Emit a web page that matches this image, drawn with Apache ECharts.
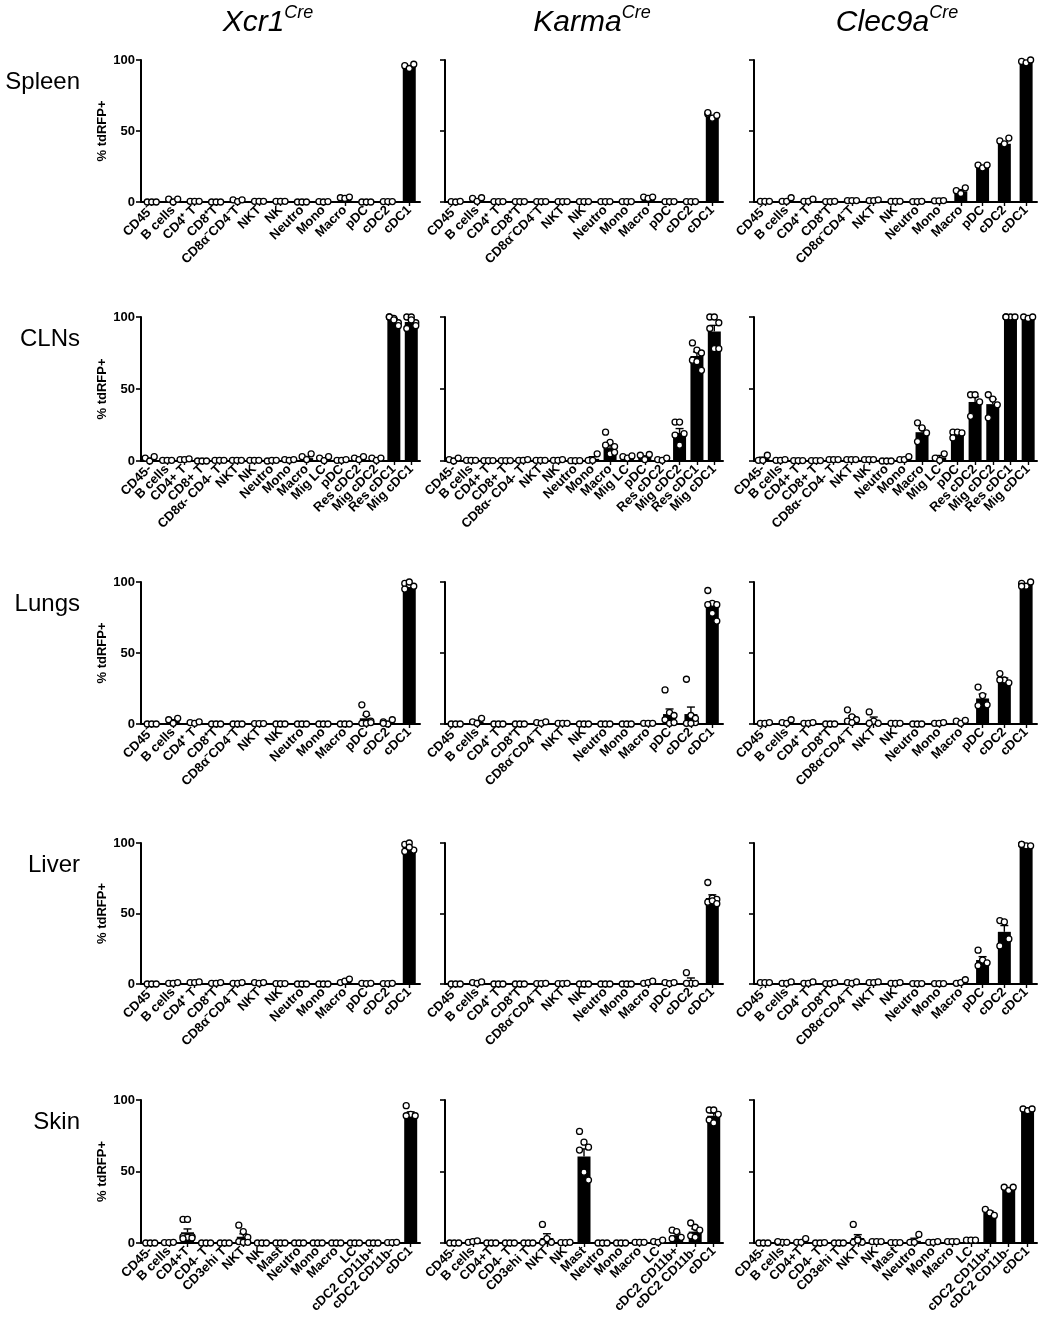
<!DOCTYPE html>
<html>
<head>
<meta charset="utf-8">
<script src="https://cdn.jsdelivr.net/npm/echarts@6/dist/echarts.min.js"></script>
<style>
html,body{margin:0;padding:0;background:#fff;}
#chart{width:1043px;height:1326px;}
</style>
</head>
<body>
<div id="chart"></div>
<script>
// ---------- categories & labels ----------
const catsStd = ['CD45⁻','B cells','CD4⁺ T','CD8⁺T','CD8α⁻CD4⁻T','NKT','NK','Neutro','Mono','Macro','pDC','cDC2','cDC1'];
const catsCLN = ['CD45-','B cells','CD4+ T','CD8+ T','CD8α- CD4- T','NKT','NK','Neutro','Mono','Macro','Mig LC','pDC','Res cDC2','Mig cDC2','Res cDC1','Mig cDC1'];
const catsSkin = ['CD45-','B cells','CD4+T','CD4- T','CD3ehi T','NKT','NK','Mast','Neutro','Mono','Macro','LC','cDC2 CD11b+','cDC2 CD11b-','cDC1'];
const rowNames = ['Spleen','CLNs','Lungs','Liver','Skin'];
const colNames = ['Xcr1','Karma','Clec9a'];
const colSup = 'Cre';
const yTicks = [0, 50, 100];
const yName = '% tdRFP+';

// ---------- Spleen ----------
const spleenXcr1Bar = [0,1,0.5,0,1,0.5,0.5,0,0.2,3,0,0.3,95];
const spleenXcr1Pts = [[0,0,0],[2,0,2],[0.5,0.5,0.5],[0,0,0],[1.5,0.3,1.5],[0.5,0.5,0.5],[0.5,0.5,0.5],[0,0,0],[0.3,0,0.3],[3,2.5,3.5],[0,0,0],[0.3,0.3,0.3],[96,94,97]];
const spleenKarmaBar = [0,1.5,0,0,0,0,0,0,0,3,0,0,60];
const spleenKarmaPts = [[0.3,0,0.5],[2.5,0.5,3],[0.3,0.3,0.3],[0.3,0.3,0.3],[0.3,0.3,0.3],[0.3,0.3,0.3],[0.3,0.3,0.3],[0.3,0.3,0.3],[0.3,0.3,0.3],[3.5,2.5,3.5],[0.3,0.3,0.3],[0.3,0.3,0.3],[62,59,61,63]];
const spleenClec9aBar = [0.5,0.8,0.8,0.3,1,1,0.5,0.3,0.8,7.5,24,41,98.5];
const spleenClec9aPts = [[0.5,0.5,0.5],[0.5,0.5,3],[0.5,0.5,2],[0.3,0.3,0.5],[1,1,1],[1,1,1.5],[0.5,0.5,0.5],[0.3,0.3,0.5],[0.8,0.8,1],[8,6,10],[26,24,26],[43,41,45],[99,98,100]];

// ---------- CLNs ----------
const clnXcr1Bar = [1,0.3,0.8,0,0.5,0.5,0.5,0.3,0.7,2,1.5,0.5,1.5,1.5,98,96.5];
const clnXcr1Pts = [[2,0,3],[0.5,0.5,0.5],[1,1,1.5],[0,0,0],[0.5,0.5,0.5],[0.5,0.5,0.5],[0.5,0.5,0.5],[0,0.5,0.5],[1,0.5,1],[3,1,5],[2,0.3,3],[0.5,0.5,1],[2,1,3],[2,0.5,2],[100,99,96,100,98,94],[100,100,96,92,98,94]];
const clnKarmaBar = [0.7,0.3,0.3,0.3,0.5,0.5,0.5,0.2,1.5,9,2.5,2.5,1,19.5,73,90];
const clnKarmaPts = [[1,0,2],[0.5,0.5,0.5],[0.3,0.3,0.3],[0.3,0.3,0.3],[0.5,0.5,1],[0.5,0.5,0.5],[0.5,0.5,1],[0.2,0.2,0.2],[0.5,0.5,5],[20,13,10,11,5,6],[3,2,3.5],[4,1,4.5],[1,0.5,2],[27,27,19,18,11],[82,77,75,70,69,63],[100,100,96,92,78,78]];
const clnClec9aBar = [1.5,0.5,0.3,0.3,1,1,1,0,1.5,20,2.5,18.5,41,39.5,100,99.5];
const clnClec9aPts = [[0.5,0.5,4],[0.5,0.5,1],[0.3,0.3,0.3],[0.3,0.3,0.3],[1,1,1],[1,1,1],[1,1,1],[0,0,0],[1,1,3],[26.5,23,19.5,13.5],[2,0.5,5],[20,20,19.5,16],[46,46,41,31],[46,43,39,30],[100,100,100,100],[100,99,100]];

// ---------- Lungs ----------
const lungsXcr1Bar = [0,2,0.8,0,0,0.3,0,0,0,0,4,1,97.5];
const lungsXcr1Pts = [[0,0,0],[3,0.5,4],[1,0.5,1.5],[0,0,0],[0,0,0],[0.3,0.3,0.3],[0,0,0],[0,0,0],[0,0,0],[0,0,0],[13.5,7,2,0.5,0.5,1],[1.5,0,3,0.5],[99,98,97,95,100]];
const lungsKarmaBar = [0,1.5,0,0,0.7,0.5,0,0,0,0.5,7,7,83];
const lungsKarmaPts = [[0,0,0],[1.5,0.5,4],[0,0,0],[0,0,0],[1,0.5,1.5],[0.5,0.5,0.5],[0,0,0],[0,0,0],[0,0,0],[0.5,0.5,0.5],[24,8,6,3,0.5,1],[31.5,6,1,0.5,0.5,4],[94,85,84,84,78,72.5]];
const lungsClec9aBar = [0.6,1.3,0.6,0,4,3,0.5,0,0.6,1.5,18,31,98];
const lungsClec9aPts = [[0.5,0.5,1],[1,0.5,3],[0.5,0.5,1],[0,0,0],[10,5,3,2,1],[8.5,2,0.5,0.5],[0.5,0.5,0.5],[0,0,0],[0.5,0.5,1],[2,0.5,2.5],[26,20,13.5,13],[35.5,31,29,31],[99,97,100,97]];

// ---------- Liver ----------
const liverXcr1Bar = [0,0.5,1,0.5,0.5,0.5,0.3,0,0,2,0.3,0.3,96];
const liverXcr1Pts = [[0,0,0],[0.5,0.5,1],[1,1,1.5],[0.5,0.5,1],[0.5,0.5,1],[1,0.5,1],[0.3,0.3,0.3],[0,0,0],[0,0,0],[1,2,3.5],[0.5,0.3,0.5],[0.3,0.3,0.5],[99,100,95,94,97]];
const liverKarmaBar = [0,0.8,0,0,0.3,0.3,0,0,0,1.2,0.5,2.4,61];
const liverKarmaPts = [[0,0,0],[1,0.5,1.5],[0,0,0],[0,0,0],[0.3,0.3,0.5],[0.3,0.3,0.5],[0,0,0],[0,0,0],[0,0,0],[0.5,1,2],[1,0.3,1],[8,0.5,0.5,0.5],[72,61,60,58,59,57]];
const liverClec9aBar = [1,0.8,0.8,0.5,1,1,0.6,0.3,0.3,1.5,17,37,97];
const liverClec9aPts = [[1,1,1],[0.5,0.5,1.5],[0.5,0.5,1.5],[0.3,0.3,1],[1,0.5,1.5],[1,1,1.5],[0.5,0.5,1],[0.3,0.3,0.3],[0.3,0.3,0.3],[0.5,1,3],[24,17,15,13],[45,44,32,27],[99,98,98,99]];

// ---------- Skin ----------
const skinXcr1Bar = [0,0.3,7.5,0,0,4.4,0,0,0,0,0,0,0,0.3,90];
const skinXcr1Pts = [[0,0,0],[0.3,0.3,0.5],[16.5,16.5,4.5,4.5,4,3.5,3],[0,0,0],[0,0,0],[12.5,8,4,1,0.5,0.5],[0,0,0],[0,0,0],[0,0,0],[0,0,0],[0,0,0],[0,0,0],[0,0,0],[0.3,0.3,0.5],[96,90,89,89]];
const skinKarmaBar = [0,0.8,0,0,0,3.5,0.3,60.5,0,0,0.3,0.8,5.5,8,89];
const skinKarmaPts = [[0,0,0],[0.5,1,1.5],[0,0,0],[0,0,0],[0,0,0],[13,3,0.5,0.5],[0.3,0.3,0.5],[78,70.5,67,65,49.5,44],[0,0,0],[0,0,0],[0.5,0.5,0.5],[1,0.5,2],[9,8,4,3],[14,11,9,5,4],[93,93,90,86,84]];
const skinClec9aBar = [0,0.5,0.8,0,0,3.5,0.8,0,1.5,0.7,1,2,21,37.5,93];
const skinClec9aPts = [[0,0,0],[0.5,0.5,0.5,1],[0.5,0.5,3],[0,0,0.3],[0,0,0],[13,3,0.5,0.5,2],[1,1,1],[0.3,0.3,0.3],[0.5,0.5,6],[0.5,0.5,1],[1,1,1],[2,2,2],[23.5,21,19.3],[39,36.7,39],[93.7,92.5,93.7]];

// ---------- panel table built from the arrays ----------
const panelRows = [
  [catsStd, [[spleenXcr1Bar, spleenXcr1Pts],[spleenKarmaBar, spleenKarmaPts],[spleenClec9aBar, spleenClec9aPts]]],
  [catsCLN, [[clnXcr1Bar, clnXcr1Pts],[clnKarmaBar, clnKarmaPts],[clnClec9aBar, clnClec9aPts]]],
  [catsStd, [[lungsXcr1Bar, lungsXcr1Pts],[lungsKarmaBar, lungsKarmaPts],[lungsClec9aBar, lungsClec9aPts]]],
  [catsStd, [[liverXcr1Bar, liverXcr1Pts],[liverKarmaBar, liverKarmaPts],[liverClec9aBar, liverClec9aPts]]],
  [catsSkin, [[skinXcr1Bar, skinXcr1Pts],[skinKarmaBar, skinKarmaPts],[skinClec9aBar, skinClec9aPts]]]
];

// ---------- layout ----------
const FONT = "'Liberation Sans', Arial, Helvetica, sans-serif";
const colLeft = [141, 445, 754];
const colWidth = [279, 278, 283];
const rowTop = [60, 317, 582, 843, 1100];
const rowHeight = [142, 144, 142, 141, 143];
const titleX = [268, 592, 897];

const grids = [], xAxes = [], yAxes = [], series = [];
let idx = 0;
panelRows.forEach((row, r) => {
  const cats = row[0];
  row[1].forEach((panel, c) => {
    const bar = panel[0], pts = panel[1];
    grids.push({left: colLeft[c], top: rowTop[r], width: colWidth[c], height: rowHeight[r]});
    xAxes.push({
      type: 'category', gridIndex: idx, data: cats, boundaryGap: true,
      axisLine: {lineStyle: {color: '#000', width: 2}},
      axisTick: {show: true, alignWithLabel: true, length: 4, lineStyle: {color: '#000', width: 1.4}},
      axisLabel: {interval: 0, rotate: 45, margin: 6, color: '#000', fontWeight: 'bold', fontSize: 13, fontFamily: FONT}
    });
    yAxes.push({
      type: 'value', gridIndex: idx, min: yTicks[0], max: yTicks[yTicks.length-1], interval: yTicks[1]-yTicks[0],
      name: c === 0 ? yName : '', nameLocation: 'middle', nameGap: 31, nameRotate: 90,
      nameTextStyle: {color: '#000', fontWeight: 'bold', fontSize: 13, fontFamily: FONT},
      axisLine: {show: true, lineStyle: {color: '#000', width: 2}},
      axisTick: {show: true, length: 5, lineStyle: {color: '#000', width: 1.6}},
      axisLabel: {show: c === 0, color: '#000', fontWeight: 'bold', fontSize: 13, fontFamily: FONT, margin: 6},
      splitLine: {show: false}
    });
    series.push({
      type: 'bar', xAxisIndex: idx, yAxisIndex: idx, data: bar, barWidth: 13,
      itemStyle: {color: '#000'}, z: 2, silent: true
    });
    // error bars (SEM of replicate points)
    const errData = pts.map((p, k) => {
      const n = p.length;
      const m = p.reduce((a, b) => a + b, 0) / n;
      const sd = n > 1 ? Math.sqrt(p.reduce((a, b) => a + (b - m) * (b - m), 0) / (n - 1)) : 0;
      return [k, bar[k], sd / Math.sqrt(n)];
    });
    series.push({
      type: 'custom', xAxisIndex: idx, yAxisIndex: idx, data: errData, z: 3, silent: true,
      encode: {x: 0, y: 1},
      renderItem: function (params, api) {
        const x = api.value(0), m = api.value(1), s = api.value(2);
        if (!(s > 0.3)) return null;
        const p0 = api.coord([x, m]), p1 = api.coord([x, m + s]);
        const st = {stroke: '#000', lineWidth: 1.4};
        return {type: 'group', children: [
          {type: 'line', shape: {x1: p0[0], y1: p0[1], x2: p1[0], y2: p1[1]}, style: st},
          {type: 'line', shape: {x1: p1[0] - 4, y1: p1[1], x2: p1[0] + 4, y2: p1[1]}, style: st}
        ]};
      }
    });
    // replicate points
    const ptData = [];
    pts.forEach((p, k) => p.forEach((v, j) => ptData.push([k, v, j, p.length])));
    series.push({
      type: 'custom', xAxisIndex: idx, yAxisIndex: idx, data: ptData, z: 4, silent: true,
      encode: {x: 0, y: 1},
      renderItem: function (params, api) {
        const k = api.value(0), v = api.value(1), j = api.value(2), n = api.value(3);
        const pos = api.coord([k, v]);
        const dx = n > 1 ? (-4.5 + 4.5 * (j % 3)) : 0;
        return {type: 'circle', shape: {cx: pos[0] + dx, cy: pos[1], r: 3},
          style: {fill: '#fff', stroke: '#000', lineWidth: 1.3}};
      }
    });
    idx++;
  });
});

// ---------- titles & row labels ----------
const graphics = [];
colNames.forEach((n, i) => {
  graphics.push({
    type: 'text', x: titleX[i], y: 21,
    style: {
      text: '{i|' + n + '}{s|' + colSup + '}',
      textAlign: 'center', textVerticalAlign: 'middle', fill: '#000',
      rich: {
        i: {fontSize: 30, fontStyle: 'italic', fontFamily: FONT, fill: '#000', verticalAlign: 'bottom', lineHeight: 34},
        s: {fontSize: 18, fontStyle: 'italic', fontFamily: FONT, fill: '#000', verticalAlign: 'top', lineHeight: 34}
      }
    }
  });
});
rowNames.forEach((n, r) => {
  graphics.push({
    type: 'text', x: 80, y: rowTop[r] + 22,
    style: {text: n, textAlign: 'right', textVerticalAlign: 'middle', fill: '#000',
      font: '24px ' + FONT}
  });
});

const chart = echarts.init(document.getElementById('chart'), null, {renderer: 'canvas'});
chart.setOption({
  animation: false,
  backgroundColor: '#fff',
  grid: grids, xAxis: xAxes, yAxis: yAxes, series: series,
  graphic: graphics
});
</script>
</body>
</html>
